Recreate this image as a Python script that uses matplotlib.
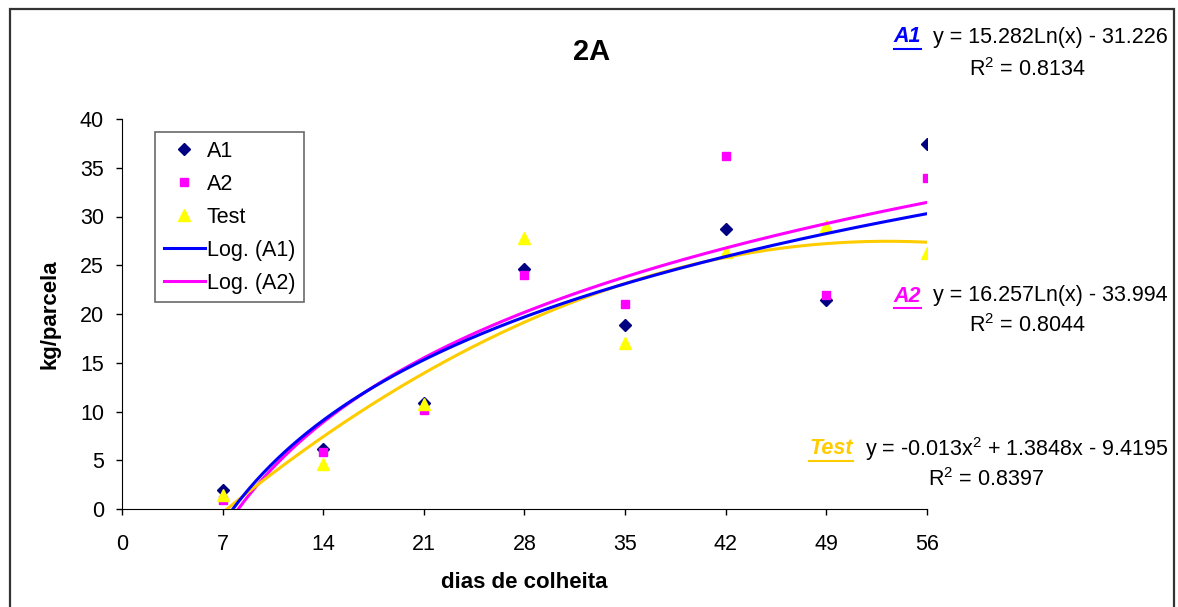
import numpy as np
import matplotlib
matplotlib.use('Agg')
import matplotlib.pyplot as plt
from matplotlib.lines import Line2D
from matplotlib.patches import Rectangle

# dados
dias = [7, 14, 21, 28, 35, 42, 49, 56]
a1 = [1.9, 6.2, 10.9, 24.6, 18.9, 28.7, 21.4, 37.4]
a2 = [0.9, 5.8, 10.2, 24.0, 21.0, 36.2, 21.9, 34.0]
test = [1.4, 4.6, 10.8, 27.8, 17.0, 26.4, 29.0, 26.3]

# coeficientes das linhas de tendencia (das equacoes do grafico)
log_a1 = (15.282, -31.226)
log_a2 = (16.257, -33.994)
poly_test = (-0.013, 1.3848, -9.4195)

xticks = [0, 7, 14, 21, 28, 35, 42, 49, 56]
yticks = [0, 5, 10, 15, 20, 25, 30, 35, 40]

plt.rcParams['font.family'] = ['Liberation Sans', 'DejaVu Sans']
plt.rcParams['mathtext.fontset'] = 'custom'
plt.rcParams['mathtext.rm'] = 'Liberation Sans'
plt.rcParams['mathtext.it'] = 'Liberation Sans:italic'

FS = 15.5
W, H = 1178, 607
fig = plt.figure(figsize=(W / 100, H / 100), dpi=100)
ax = fig.add_axes([122 / W, 98 / H, 805 / W, 390 / H])

# pontos
ax.plot(dias, a1, linestyle='none', marker='D', markersize=6, color='#000080', label='A1', zorder=2)
ax.plot(dias, a2, linestyle='none', marker='s', markersize=6, color='#FF00FF', label='A2', zorder=2)
ax.plot(dias, test, linestyle='none', marker='^', markersize=8, color='#FFFF00', label='Test', zorder=2)

# linhas de tendencia
xs = np.linspace(dias[0], dias[-1], 400)
ax.plot(xs, log_a1[0] * np.log(xs) + log_a1[1], color='#0000FF', lw=2.2, label='Log. (A1)', zorder=4)
ax.plot(xs, log_a2[0] * np.log(xs) + log_a2[1], color='#FF00FF', lw=2.2, label='Log. (A2)', zorder=3)
ax.plot(xs, np.polyval(poly_test, xs), color='#FFCC00', lw=2.2, zorder=3)

ax.set_xlim(0, 56)
ax.set_ylim(0, 40)
ax.set_xticks(xticks)
ax.set_yticks(yticks)
ax.spines['top'].set_visible(False)
ax.spines['right'].set_visible(False)
ax.tick_params(axis='both', direction='out', length=4, width=1, labelsize=FS)
ax.tick_params(axis='x', pad=14)
ax.tick_params(axis='y', pad=9)

ax.set_xlabel('dias de colheita', fontsize=16, fontweight='bold', labelpad=12)
ax.set_ylabel('kg/parcela', fontsize=16, fontweight='bold', labelpad=14)
fig.text(592 / W, 1 - 52 / H, '2A', fontsize=21, fontweight='bold', ha='center', va='center')

leg = ax.legend(loc='upper left', bbox_to_anchor=(155 / W, 1 - 132 / H), bbox_transform=fig.transFigure,
                borderaxespad=0, fancybox=False, edgecolor='#444444', fontsize=FS, numpoints=1,
                handlelength=1.9, handletextpad=0.1, labelspacing=0.56, borderpad=0.4)
leg.get_frame().set_linewidth(1.2)

# moldura
fig.patches.append(Rectangle((10, -20), 1164, 618, transform=None, fill=False,
                             edgecolor='#333333', lw=1.6))

# equacoes
labels = [
    ('A1', '#0000FF', 'y = 15.282Ln(x) - 31.226', 'R$^2$ = 0.8134', 37, 70, 1027),
    ('A2', '#FF00FF', 'y = 16.257Ln(x) - 33.994', 'R$^2$ = 0.8044', 296, 326, 1027),
    ('Test', '#FFCC00', 'y = -0.013x$^2$ + 1.3848x - 9.4195', 'R$^2$ = 0.8397', 449, 480, 986),
]
names = []
for name, col, eq, r2, y1, y2, xc in labels:
    t = fig.text(1168 / W, 1 - y1 / H, eq, fontsize=FS, ha='right', va='center')
    fig.text(xc / W, 1 - y2 / H, r2, fontsize=FS, ha='center', va='center')
    names.append((t, name, col, y1))

fig.canvas.draw()
r = fig.canvas.get_renderer()
for t, name, col, y1 in names:
    bb = t.get_window_extent(r)
    n = fig.text((bb.x0 - 12) / W, 1 - y1 / H, name, fontsize=FS, ha='right', va='center',
                 color=col, fontweight='bold', fontstyle='italic')
    nb = n.get_window_extent(r)
    fig.add_artist(Line2D([nb.x0 / W, nb.x1 / W], [(nb.y0 - 1) / H] * 2, color=col, lw=1.5))

fig.savefig('out.png', dpi=100)
